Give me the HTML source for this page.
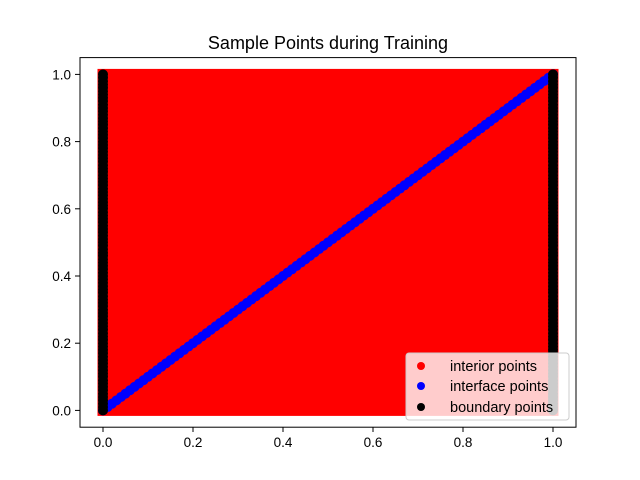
<!DOCTYPE html>
<html><head><meta charset="utf-8"><style>body{margin:0;background:#fff}svg{display:block;font-family:"Liberation Sans","DejaVu Sans",sans-serif}</style></head>
<body>
<svg id="c" width="640" height="480" viewBox="0 0 640 480">
<rect width="640" height="480" fill="#fff"/>
<text x="328" y="49" text-anchor="middle" font-size="18" fill="#000">Sample Points during Training</text>
<g id="plot"></g>
<rect x="80" y="57.6" width="496" height="369.6" fill="none" stroke="#000" stroke-width="1"/>
<g id="ticks"></g>
<g>
<rect x="406" y="353" width="163" height="67" rx="3" fill="#fff" fill-opacity="0.8" stroke="#ccc"/>
<circle cx="421" cy="366" r="4" fill="#f00"/>
<text x="450" y="371" font-size="14.5">interior points</text>
<circle cx="421" cy="386" r="4" fill="#00f"/>
<text x="450" y="391" font-size="14.5">interface points</text>
<circle cx="421" cy="407" r="4" fill="#000"/>
<text x="450" y="412" font-size="14.5">boundary points</text>
</g>
</svg>
<script>
const xTicks = [0.0, 0.2, 0.4, 0.6, 0.8, 1.0];
const yTicks = [0.0, 0.2, 0.4, 0.6, 0.8, 1.0];
const tickLabels = ["0.0", "0.2", "0.4", "0.6", "0.8", "1.0"];
const interiorXRange = [0, 1];
const interiorYRange = [0, 1];
const interfaceX = [0,0.01,0.02,0.03,0.04,0.05,0.06,0.07,0.08,0.09,0.1,0.11,0.12,0.13,0.14,0.15,0.16,0.17,0.18,0.19,0.2,0.21,0.22,0.23,0.24,0.25,0.26,0.27,0.28,0.29,0.3,0.31,0.32,0.33,0.34,0.35,0.36,0.37,0.38,0.39,0.4,0.41,0.42,0.43,0.44,0.45,0.46,0.47,0.48,0.49,0.5,0.51,0.52,0.53,0.54,0.55,0.56,0.57,0.58,0.59,0.6,0.61,0.62,0.63,0.64,0.65,0.66,0.67,0.68,0.69,0.7,0.71,0.72,0.73,0.74,0.75,0.76,0.77,0.78,0.79,0.8,0.81,0.82,0.83,0.84,0.85,0.86,0.87,0.88,0.89,0.9,0.91,0.92,0.93,0.94,0.95,0.96,0.97,0.98,0.99,1];
const interfaceY = [0,0.01,0.02,0.03,0.04,0.05,0.06,0.07,0.08,0.09,0.1,0.11,0.12,0.13,0.14,0.15,0.16,0.17,0.18,0.19,0.2,0.21,0.22,0.23,0.24,0.25,0.26,0.27,0.28,0.29,0.3,0.31,0.32,0.33,0.34,0.35,0.36,0.37,0.38,0.39,0.4,0.41,0.42,0.43,0.44,0.45,0.46,0.47,0.48,0.49,0.5,0.51,0.52,0.53,0.54,0.55,0.56,0.57,0.58,0.59,0.6,0.61,0.62,0.63,0.64,0.65,0.66,0.67,0.68,0.69,0.7,0.71,0.72,0.73,0.74,0.75,0.76,0.77,0.78,0.79,0.8,0.81,0.82,0.83,0.84,0.85,0.86,0.87,0.88,0.89,0.9,0.91,0.92,0.93,0.94,0.95,0.96,0.97,0.98,0.99,1];
const boundaryX = [0, 1];
const boundaryY = [0,0.01,0.02,0.03,0.04,0.05,0.06,0.07,0.08,0.09,0.1,0.11,0.12,0.13,0.14,0.15,0.16,0.17,0.18,0.19,0.2,0.21,0.22,0.23,0.24,0.25,0.26,0.27,0.28,0.29,0.3,0.31,0.32,0.33,0.34,0.35,0.36,0.37,0.38,0.39,0.4,0.41,0.42,0.43,0.44,0.45,0.46,0.47,0.48,0.49,0.5,0.51,0.52,0.53,0.54,0.55,0.56,0.57,0.58,0.59,0.6,0.61,0.62,0.63,0.64,0.65,0.66,0.67,0.68,0.69,0.7,0.71,0.72,0.73,0.74,0.75,0.76,0.77,0.78,0.79,0.8,0.81,0.82,0.83,0.84,0.85,0.86,0.87,0.88,0.89,0.9,0.91,0.92,0.93,0.94,0.95,0.96,0.97,0.98,0.99,1];

const NS = "http://www.w3.org/2000/svg";
const sx = v => 103 + v * 450;
const sy = v => 410.4 - v * 336;
const plot = document.getElementById('plot');
const ticks = document.getElementById('ticks');
function mk(tag, attrs, parent) {
  const e = document.createElementNS(NS, tag);
  for (const k in attrs) e.setAttribute(k, attrs[k]);
  parent.appendChild(e);
  return e;
}
const r = 5.5;
const interior = mk('rect', {x: sx(interiorXRange[0]) - r, y: sy(interiorYRange[1]) - r, width: sx(interiorXRange[1]) - sx(interiorXRange[0]) + 2*r, height: sy(interiorYRange[0]) - sy(interiorYRange[1]) + 2*r, fill: '#f00'}, plot);


interfaceX.forEach((x, i) => {
  const c = mk('circle', {cx: sx(x), cy: sy(interfaceY[i]), r: 5, fill: '#00f'}, plot);
  
  
});
boundaryX.forEach(x => {
  boundaryY.forEach(y => {
    const c = mk('circle', {cx: sx(x), cy: sy(y), r: 5, fill: '#000'}, plot);
    
    
  });
});
xTicks.forEach((v, i) => {
  const x = sx(v);
  const l = mk('line', {x1: x, x2: x, y1: 427.2, y2: 432, stroke: '#000'}, ticks);
  
  
  const t = mk('text', {x: x, y: 447, 'text-anchor': 'middle', 'font-size': 13.5}, ticks);
  t.textContent = tickLabels[i];
  
  
});
yTicks.forEach((v, i) => {
  const y = sy(v);
  const l = mk('line', {x1: 75, x2: 80, y1: y, y2: y, stroke: '#000'}, ticks);
  
  
  const t = mk('text', {x: 71, y: y + 5, 'text-anchor': 'end', 'font-size': 13.5}, ticks);
  t.textContent = tickLabels[i];
  
  
});
</script>
</body></html>
